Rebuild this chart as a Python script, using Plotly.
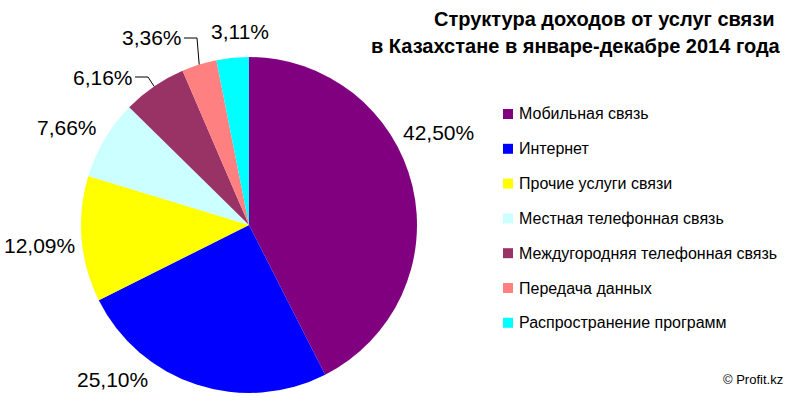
import math
import plotly.graph_objects as go

# ---- data ----
categories = [
    "Мобильная связь",
    "Интернет",
    "Прочие услуги связи",
    "Местная телефонная связь",
    "Междугородняя телефонная связь",
    "Передача данных",
    "Распространение программ",
]
values = [42.50, 25.10, 12.09, 7.66, 6.16, 3.36, 3.11]
title_lines = ["Структура доходов от услуг связи", "в Казахстане в январе-декабре 2014 года"]
credit = "© Profit.kz"

# ---- style / layout ----
colors = ["#800080", "#0000FF", "#FFFF00", "#CCFFFF", "#993366", "#FF8080", "#00FFFF"]
W, H = 800, 400
CX, CY, R = 249, 225, 168
FONT = "Liberation Sans, Arial, sans-serif"
# label centres (pixels) for each slice, and which slices get leader lines
label_pos = [(438, 132), (113, 379), (39, 245), (67, 127), (103, 77), (152, 38), (240, 32)]
leader = [False, False, False, False, True, True, False]
legend_x, legend_y0, legend_dy = 503, 114, 34.8


def px(x):
    return x / W


def py(y):
    return 1 - y / H


fig = go.Figure(
    go.Pie(
        labels=categories,
        values=values,
        marker=dict(colors=colors, line=dict(width=0)),
        sort=False,
        direction="clockwise",
        rotation=0,
        textinfo="none",
        hoverinfo="label+percent",
        showlegend=False,
        domain=dict(x=[px(CX - R), px(CX + R)], y=[py(CY + R), py(CY - R)]),
    )
)

annotations = []
shapes = []

total = sum(values)
cum = 0.0
for i, v in enumerate(values):
    mid = math.radians(360 * (cum + v / 2) / total)
    cum += v
    txt = f"{v:.2f}".replace(".", ",") + "%"
    lx, ly = label_pos[i]
    annotations.append(dict(
        x=px(lx), y=py(ly), xref="paper", yref="paper", text=txt, showarrow=False,
        xanchor="center", yanchor="middle", font=dict(family=FONT, size=21, color="#000000"),
    ))
    if leader[i]:
        ex, ey = CX + R * math.sin(mid), CY - R * math.cos(mid)
        sx = lx + 32
        kx = sx + 13
        shapes.append(dict(
            type="path", xref="paper", yref="paper",
            path=f"M {px(sx)},{py(ly)} L {px(kx)},{py(ly)} L {px(ex)},{py(ey)}",
            line=dict(color="#000000", width=1),
        ))

# manual legend
for i, (c, lab) in enumerate(zip(colors, categories)):
    yc = legend_y0 + legend_dy * i
    shapes.append(dict(
        type="rect", xref="paper", yref="paper",
        x0=px(legend_x), x1=px(legend_x + 10), y0=py(yc + 5), y1=py(yc - 5),
        fillcolor=c, line=dict(width=0),
    ))
    annotations.append(dict(
        x=px(legend_x + 14), y=py(yc), xref="paper", yref="paper", text=lab, showarrow=False,
        xanchor="left", yanchor="middle", font=dict(family=FONT, size=16, color="#000000"),
    ))

# title
annotations.append(dict(
    x=px(776), y=py(19), xref="paper", yref="paper", text=f"<b>{title_lines[0]}</b>",
    showarrow=False, xanchor="right", yanchor="middle",
    font=dict(family=FONT, size=20, color="#000000"),
))
annotations.append(dict(
    x=px(783), y=py(46), xref="paper", yref="paper", text=f"<b>{title_lines[1]}</b>",
    showarrow=False, xanchor="right", yanchor="middle",
    font=dict(family=FONT, size=20, color="#000000"),
))
annotations.append(dict(
    x=px(785), y=py(379), xref="paper", yref="paper", text=credit,
    showarrow=False, xanchor="right", yanchor="middle",
    font=dict(family=FONT, size=13, color="#000000"),
))

fig.update_layout(
    width=W, height=H,
    margin=dict(l=0, r=0, t=0, b=0),
    paper_bgcolor="#FFFFFF",
    plot_bgcolor="#FFFFFF",
    annotations=annotations,
    shapes=shapes,
    showlegend=False,
)

fig.write_html(
    "out.html",
    config={"displayModeBar": False},
    post_script="document.body.style.margin='0';document.body.style.padding='0';",
)
